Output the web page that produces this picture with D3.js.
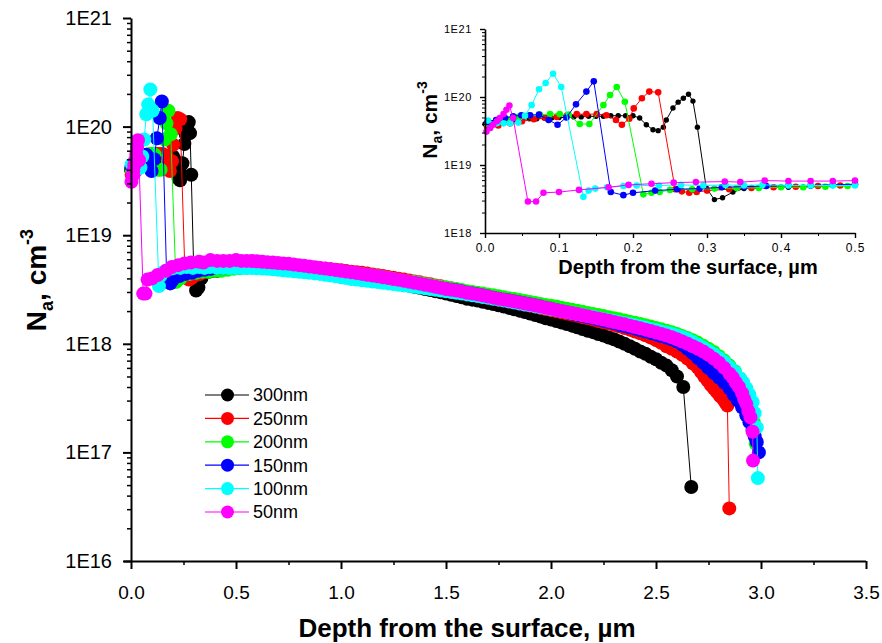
<!DOCTYPE html>
<html><head><meta charset="utf-8">
<script src="https://cdn.jsdelivr.net/npm/d3@7"></script>
<style>
body{margin:0;background:#fff;}
svg{display:block;}
text{font-family:"Liberation Sans",Arial,sans-serif;fill:#000;}
</style></head><body>
<svg id="c" width="882" height="643"></svg>
<script>
// ---------------- DATA ----------------
const seriesNames  = ["300nm","250nm","200nm","150nm","100nm","50nm"];
const seriesColors = ["#000000","#ff0000","#00ff00","#0000ff","#00ffff","#ff00ff"];

// near-surface part [depth µm, Na cm^-3]
const surface300 = [[0.0,4.0e19],[0.01,4.2e19],[0.02,4.4e19],[0.03,4.5e19],[0.04,4.6e19],[0.05,4.7e19],[0.06,4.8e19],[0.07,4.8e19],[0.08,4.9e19],[0.09,4.9e19],[0.10,5.0e19],[0.11,5.0e19],[0.12,5.1e19],[0.13,5.1e19],[0.14,5.2e19],[0.15,5.2e19],[0.16,5.2e19],[0.17,5.3e19],[0.18,5.3e19],[0.19,5.3e19],[0.20,5.3e19],[0.209,4.9e19],[0.218,3.9e19],[0.227,3.3e19],[0.234,3.2e19],[0.241,3.6e19],[0.245,4.6e19],[0.254,6.9e19],[0.261,8.4e19],[0.268,9.6e19],[0.275,1.1e20],[0.281,8.7e19],[0.287,3.6e19],[0.299,4.6e18],[0.31,3.1e18],[0.321,3.3e18],[0.335,4.0e18],[0.35,4.5e18],[0.37,4.6e18],[0.39,4.7e18],[0.41,4.7e18],[0.44,4.9e18],[0.47,5.0e18],[0.5,5.1e18],[0.525,5.1e18]];
const surface250 = [[0.003,3.6e19],[0.018,3.8e19],[0.034,4.1e19],[0.05,4.4e19],[0.066,4.7e19],[0.082,4.9e19],[0.097,5.1e19],[0.111,5.4e19],[0.124,5.6e19],[0.137,5.6e19],[0.151,5.6e19],[0.164,5.4e19],[0.177,4.6e19],[0.185,3.9e19],[0.195,4.8e19],[0.201,6.8e19],[0.212,9.6e19],[0.222,1.2e20],[0.234,1.17e20],[0.257,4.4e18],[0.266,4.1e18],[0.276,3.9e18],[0.286,4.0e18],[0.30,4.2e18],[0.33,4.4e18],[0.36,4.6e18],[0.39,4.7e18],[0.42,4.8e18],[0.45,4.9e18],[0.48,5.0e18],[0.515,5.05e18]];
const surface200 = [[0.003,4.0e19],[0.016,4.3e19],[0.03,4.7e19],[0.045,5.1e19],[0.06,5.4e19],[0.074,5.5e19],[0.088,5.6e19],[0.101,5.6e19],[0.113,5.5e19],[0.128,4.0e19],[0.141,4.0e19],[0.160,7.6e19],[0.169,1.07e20],[0.178,1.4e20],[0.189,8.5e19],[0.214,3.7e18],[0.225,3.9e18],[0.236,4.0e18],[0.25,4.3e18],[0.28,4.4e18],[0.31,4.5e18],[0.34,4.6e18],[0.37,4.6e18],[0.40,4.7e18],[0.43,4.7e18],[0.46,4.8e18],[0.49,4.9e18],[0.52,4.95e18]];
const surface150 = [[0.003,4.3e19],[0.015,4.6e19],[0.027,4.9e19],[0.038,5.2e19],[0.049,5.4e19],[0.061,5.4e19],[0.073,5.5e19],[0.086,4.6e19],[0.098,3.9e19],[0.110,5.0e19],[0.123,7.8e19],[0.137,1.2e20],[0.147,1.7e20],[0.170,4.0e18],[0.187,3.6e18],[0.200,3.9e18],[0.23,4.2e18],[0.26,4.4e18],[0.29,4.5e18],[0.32,4.7e18],[0.35,4.8e18],[0.38,4.9e18],[0.41,5.0e18],[0.44,5.0e18],[0.47,5.1e18],[0.50,5.2e18],[0.525,5.2e18]];
const surface100 = [[0.004,4.5e19],[0.016,4.1e19],[0.025,4.1e19],[0.034,4.1e19],[0.045,4.2e19],[0.054,5.3e19],[0.063,7.6e19],[0.073,1.3e20],[0.082,1.6e20],[0.092,2.2e20],[0.103,1.4e20],[0.133,3.4e18],[0.14,4.2e18],[0.149,4.5e18],[0.165,4.7e18],[0.187,4.9e18],[0.205,5.0e18],[0.235,5.0e18],[0.265,5.1e18],[0.295,5.0e18],[0.325,5.1e18],[0.35,5.0e18],[0.375,5.1e18],[0.41,5.0e18],[0.44,5.0e18],[0.47,5.0e18],[0.50,5.0e18],[0.525,5.0e18]];
const surface50  = [[0.002,3.1e19],[0.007,3.5e19],[0.011,3.9e19],[0.016,4.4e19],[0.020,4.9e19],[0.025,5.6e19],[0.029,6.5e19],[0.033,7.5e19],[0.038,4.9e19],[0.058,2.9e18],[0.069,2.9e18],[0.079,3.9e18],[0.10,4.0e18],[0.127,4.3e18],[0.167,4.7e18],[0.194,5.1e18],[0.225,5.3e18],[0.255,5.5e18],[0.285,5.6e18],[0.324,5.7e18],[0.345,5.6e18],[0.378,5.9e18],[0.41,5.8e18],[0.44,5.8e18],[0.47,5.8e18],[0.50,5.9e18],[0.525,5.8e18]];

// bulk part: shared depth grid (µm), values per series in units of 1e18 cm^-3
const bulkUnit = 1e18;
const bulkDepth = [0.55,0.575,0.60,0.625,0.65,0.675,0.70,0.725,0.75,0.775,0.80,0.825,0.85,0.875,0.90,0.925,0.95,0.975,1.00,1.025,1.05,1.075,1.10,1.125,1.15,1.175,1.20,1.225,1.25,1.275,1.30,1.325,1.35,1.375,1.40,1.425,1.45,1.475,1.50,1.525,1.55,1.575,1.60,1.625,1.65,1.675,1.70,1.725,1.75,1.775,1.80,1.825,1.85,1.875,1.90,1.925,1.95,1.975,2.00,2.025,2.05,2.075,2.10,2.125,2.15,2.175,2.20,2.225,2.25,2.275,2.30,2.325,2.35,2.375,2.40,2.425,2.45,2.475,2.50,2.525,2.55,2.575,2.60];
const bulk300 = [5.1,5.1,5.1,5.1,5.1,5.08,5.05,5.03,5.0,4.95,4.9,4.85,4.8,4.75,4.7,4.63,4.55,4.48,4.4,4.33,4.25,4.18,4.1,4.03,3.95,3.88,3.8,3.73,3.65,3.58,3.5,3.43,3.35,3.28,3.2,3.13,3.05,2.98,2.9,2.83,2.75,2.68,2.6,2.55,2.5,2.44,2.38,2.32,2.26,2.2,2.14,2.08,2.02,1.96,1.9,1.84,1.78,1.72,1.67,1.62,1.57,1.52,1.47,1.42,1.37,1.32,1.28,1.23,1.19,1.14,1.1,1.05,1.0,0.95,0.9,0.85,0.81,0.76,0.72,0.67,0.63];
const bulk250 = [5.1,5.13,5.15,5.18,5.2,5.2,5.2,5.18,5.15,5.13,5.1,5.05,5.0,4.98,4.95,4.9,4.85,4.8,4.75,4.68,4.6,4.55,4.5,4.43,4.35,4.28,4.2,4.13,4.05,3.98,3.9,3.83,3.75,3.68,3.6,3.53,3.45,3.38,3.3,3.23,3.15,3.08,3.0,2.93,2.85,2.78,2.72,2.66,2.6,2.54,2.48,2.42,2.36,2.3,2.25,2.2,2.14,2.09,2.04,2.0,1.95,1.9,1.86,1.81,1.76,1.72,1.67,1.62,1.58,1.54,1.49,1.45,1.4,1.35,1.3,1.25,1.2,1.14,1.08,1.02,0.95,0.9,0.85];
const bulk200 = [5.0,5.05,5.1,5.13,5.15,5.15,5.15,5.13,5.1,5.08,5.05,5.0,4.95,4.9,4.85,4.8,4.75,4.7,4.65,4.58,4.5,4.45,4.4,4.33,4.25,4.18,4.1,4.03,3.95,3.88,3.8,3.75,3.7,3.63,3.55,3.48,3.4,3.35,3.3,3.25,3.2,3.13,3.05,3.0,2.95,2.9,2.85,2.8,2.74,2.68,2.63,2.58,2.53,2.48,2.43,2.38,2.33,2.28,2.24,2.2,2.15,2.1,2.06,2.02,1.97,1.92,1.88,1.84,1.8,1.76,1.72,1.68,1.64,1.6,1.56,1.52,1.48,1.44,1.4,1.36,1.32,1.28,1.23];
const bulk150 = [5.2,5.2,5.2,5.18,5.15,5.13,5.1,5.08,5.05,5.0,4.95,4.9,4.85,4.8,4.75,4.68,4.6,4.55,4.5,4.43,4.35,4.3,4.25,4.18,4.1,4.05,4.0,3.93,3.85,3.78,3.7,3.65,3.6,3.53,3.45,3.38,3.3,3.25,3.2,3.15,3.1,3.03,2.95,2.9,2.85,2.78,2.72,2.66,2.6,2.55,2.5,2.45,2.4,2.35,2.3,2.25,2.2,2.15,2.1,2.05,2.0,1.95,1.9,1.85,1.8,1.76,1.72,1.67,1.63,1.59,1.55,1.5,1.46,1.42,1.38,1.34,1.3,1.26,1.22,1.18,1.14,1.1,1.05];
const bulk100 = [5.0,4.98,4.95,4.93,4.9,4.85,4.8,4.75,4.7,4.65,4.6,4.55,4.5,4.45,4.4,4.33,4.25,4.18,4.1,4.03,3.95,3.9,3.85,3.8,3.75,3.7,3.65,3.6,3.55,3.5,3.45,3.4,3.35,3.3,3.25,3.2,3.15,3.1,3.05,3.0,2.95,2.9,2.85,2.8,2.75,2.7,2.65,2.6,2.55,2.5,2.45,2.4,2.35,2.3,2.26,2.21,2.17,2.12,2.08,2.04,2.0,1.96,1.92,1.88,1.84,1.8,1.77,1.73,1.69,1.65,1.62,1.58,1.55,1.51,1.48,1.44,1.41,1.37,1.34,1.3,1.27,1.23,1.19];
const bulk50  = [5.8,5.78,5.75,5.7,5.65,5.6,5.55,5.5,5.45,5.38,5.3,5.23,5.15,5.08,5.0,4.93,4.85,4.78,4.7,4.63,4.55,4.48,4.4,4.33,4.25,4.18,4.1,4.03,3.95,3.88,3.8,3.73,3.65,3.58,3.5,3.43,3.35,3.28,3.2,3.15,3.1,3.03,2.95,2.9,2.85,2.78,2.72,2.66,2.6,2.55,2.5,2.45,2.4,2.35,2.3,2.25,2.2,2.15,2.1,2.05,2.0,1.96,1.92,1.88,1.83,1.79,1.75,1.71,1.67,1.63,1.59,1.55,1.51,1.47,1.43,1.39,1.35,1.31,1.27,1.23,1.19,1.15,1.1];

// deep tail part [depth µm, Na cm^-3]
const tail300 = [[2.575,5.7e17],[2.60,5.0e17],[2.63,4.0e17],[2.668,4.8e16]];
const tail250 = [[2.625,7.9e17],[2.65,7.3e17],[2.675,6.6e17],[2.70,6.0e17],[2.715,5.5e17],[2.73,5.0e17],[2.745,4.6e17],[2.76,4.2e17],[2.775,3.9e17],[2.79,3.6e17],[2.805,3.3e17],[2.82,3.1e17],[2.83,2.9e17],[2.84,2.7e17],[2.849,3.05e16]];
const tail200 = [[2.625,1.18e18],[2.65,1.13e18],[2.675,1.08e18],[2.70,1.02e18],[2.725,9.6e17],[2.75,9.0e17],[2.775,8.4e17],[2.80,7.7e17],[2.825,7.0e17],[2.85,6.3e17],[2.875,5.6e17],[2.90,4.8e17],[2.915,4.2e17],[2.93,3.7e17],[2.94,3.2e17],[2.95,2.8e17],[2.96,2.3e17],[2.965,1.9e17],[2.975,1.2e17]];
const tail150 = [[2.625,9.8e17],[2.65,9.0e17],[2.675,8.2e17],[2.70,7.4e17],[2.725,6.7e17],[2.75,6.0e17],[2.775,5.4e17],[2.80,4.9e17],[2.825,4.4e17],[2.85,3.9e17],[2.87,3.4e17],[2.89,3.0e17],[2.91,2.6e17],[2.93,2.2e17],[2.945,1.9e17],[2.96,1.6e17],[2.97,1.4e17],[2.98,1.25e17],[2.99,1.0e17]];
const tail100 = [[2.625,1.15e18],[2.65,1.1e18],[2.675,1.04e18],[2.70,9.8e17],[2.725,9.2e17],[2.75,8.6e17],[2.775,8.0e17],[2.80,7.4e17],[2.825,6.8e17],[2.85,6.1e17],[2.875,5.5e17],[2.90,4.8e17],[2.915,4.4e17],[2.93,3.9e17],[2.945,3.4e17],[2.96,2.9e17],[2.97,2.3e17],[2.98,1.7e17],[2.985,5.8e16]];
const tail50  = [[2.625,1.05e18],[2.65,1.0e18],[2.675,9.5e17],[2.70,9.0e17],[2.725,8.5e17],[2.75,7.9e17],[2.775,7.3e17],[2.80,6.7e17],[2.825,6.0e17],[2.85,5.3e17],[2.865,4.9e17],[2.88,4.4e17],[2.895,4.0e17],[2.91,3.5e17],[2.92,3.1e17],[2.93,2.8e17],[2.94,2.4e17],[2.95,2.1e17],[2.96,1.55e17],[2.962,8.4e16]];

// tick labels
const xTickValues = [0,0.5,1.0,1.5,2.0,2.5,3.0,3.5];
const xTickLabels = ["0.0","0.5","1.0","1.5","2.0","2.5","3.0","3.5"];
const yTickValues = [1e16,1e17,1e18,1e19,1e20,1e21];
const yTickLabels = ["1E16","1E17","1E18","1E19","1E20","1E21"];
const insetXTickValues = [0,0.1,0.2,0.3,0.4,0.5];
const insetXTickLabels = ["0.0","0.1","0.2","0.3","0.4","0.5"];
const insetYTickValues = [1e18,1e19,1e20,1e21];
const insetYTickLabels = ["1E18","1E19","1E20","1E21"];

// ---------------- BUILD ----------------
const surfaces = [surface300,surface250,surface200,surface150,surface100,surface50];
const bulks = [bulk300,bulk250,bulk200,bulk150,bulk100,bulk50];
const tails = [tail300,tail250,tail200,tail150,tail100,tail50];
const series = seriesNames.map((name,i)=>({
  name, color: seriesColors[i],
  points: surfaces[i].concat(bulks[i].map((v,j)=>[bulkDepth[j],v*bulkUnit]), tails[i])
}));

const svg = d3.select("#c");
svg.append("rect").attr("width",882).attr("height",643).attr("fill","#fff");

function minorLog(lo,hi){const o=[];for(let e=lo;e<hi;e++)for(let m=2;m<=9;m++)o.push(m*Math.pow(10,e));return o;}

// ---- main chart ----
const x = d3.scaleLinear().domain([0,3.5]).range([131,866]);
const y = d3.scaleLog().domain([1e16,1e21]).range([561,18]);

const gData = svg.append("g");
const line = d3.line().x(p=>x(p[0])).y(p=>y(p[1]));
series.forEach(s=>{
  const g = gData.append("g");
  g.append("path").attr("d",line(s.points)).attr("fill","none").attr("stroke",s.color).attr("stroke-width",1);
  g.selectAll("circle").data(s.points).enter().append("circle")
    .attr("cx",p=>x(p[0])).attr("cy",p=>y(p[1])).attr("r",7).attr("fill",s.color);
});

// axes
svg.append("g").attr("transform","translate(131,0)")
  .call(d3.axisLeft(y).tickValues(minorLog(16,21)).tickSize(4).tickFormat(""))
  .call(g=>{g.select(".domain").remove();g.selectAll("line").attr("stroke-width",1.5);});
const gy = svg.append("g").attr("transform","translate(131,0)")
  .call(d3.axisLeft(y).tickValues(yTickValues).tickFormat((d,i)=>yTickLabels[i]).tickSize(8).tickPadding(11).tickSizeOuter(0));
gy.select(".domain").attr("stroke-width",2);
gy.selectAll("line").attr("stroke-width",2);
gy.selectAll("text").attr("font-size",20).attr("font-family","Liberation Sans, Arial, sans-serif");

svg.append("g").attr("transform","translate(0,561)")
  .call(d3.axisBottom(x).tickValues([0.25,0.75,1.25,1.75,2.25,2.75,3.25]).tickSize(4).tickFormat(""))
  .call(g=>{g.select(".domain").remove();g.selectAll("line").attr("stroke-width",1.5);});
const gx = svg.append("g").attr("transform","translate(0,561)")
  .call(d3.axisBottom(x).tickValues(xTickValues).tickFormat((d,i)=>xTickLabels[i]).tickSize(8).tickPadding(17).tickSizeOuter(0));
gx.select(".domain").attr("stroke-width",2).attr("d","M124,0.5H866");
gx.selectAll("line").attr("stroke-width",2);
gx.selectAll("text").attr("font-size",19).attr("font-family","Liberation Sans Narrow, Arial Narrow, Liberation Sans, sans-serif");

// axis titles
svg.append("text").attr("x",467).attr("y",637).attr("text-anchor","middle")
  .attr("font-size",26).attr("font-weight","bold").text("Depth from the surface, µm");
const yt = svg.append("text").attr("transform","translate(46,280) rotate(-90)").attr("text-anchor","middle")
  .attr("font-size",28).attr("font-weight","bold");
yt.append("tspan").text("N");
yt.append("tspan").attr("font-size",18).attr("dy",7).text("a");
yt.append("tspan").attr("dy",-7).text(", cm");
yt.append("tspan").attr("font-size",18).attr("dy",-13).text("-3");

// legend
const lg = svg.append("g");
series.forEach((s,i)=>{
  const yy = 395 + i*23.4;
  lg.append("line").attr("x1",205).attr("x2",249).attr("y1",yy).attr("y2",yy).attr("stroke",s.color).attr("stroke-width",1.2);
  lg.append("circle").attr("cx",227.5).attr("cy",yy).attr("r",6.5).attr("fill",s.color);
  lg.append("text").attr("x",253).attr("y",yy).attr("dy","0.36em").attr("font-size",18).text(s.name);
});

// ---- inset ----
const xi = d3.scaleLinear().domain([0,0.5]).range([485,855]);
const yi = d3.scaleLog().domain([1e18,1e21]).range([233,29]);
const lineI = d3.line().x(p=>xi(p[0])).y(p=>yi(p[1]));
const gi = svg.append("g");
series.forEach(s=>{
  const pts = s.points.filter(p=>p[0]<=0.5);
  const g = gi.append("g");
  g.append("path").attr("d",lineI(pts)).attr("fill","none").attr("stroke",s.color).attr("stroke-width",1);
  g.selectAll("circle").data(pts).enter().append("circle")
    .attr("cx",p=>xi(p[0])).attr("cy",p=>yi(p[1])).attr("r",s.name==="300nm"?2.7:3.3).attr("fill",s.color);
});
svg.append("g").attr("transform","translate(485,0)")
  .call(d3.axisLeft(yi).tickValues(minorLog(18,21)).tickSize(3).tickFormat(""))
  .call(g=>g.select(".domain").remove());
const giy = svg.append("g").attr("transform","translate(485,0)")
  .call(d3.axisLeft(yi).tickValues(insetYTickValues).tickFormat((d,i)=>insetYTickLabels[i]).tickSize(5).tickPadding(8).tickSizeOuter(0));
giy.select(".domain").attr("stroke-width",1.6);
giy.selectAll("line").attr("stroke-width",1.4);
giy.selectAll("text").attr("font-size",11).attr("letter-spacing",0.6);
svg.append("g").attr("transform","translate(0,233)")
  .call(d3.axisBottom(xi).tickValues([0.05,0.15,0.25,0.35,0.45]).tickSize(3).tickFormat(""))
  .call(g=>g.select(".domain").remove());
const gix = svg.append("g").attr("transform","translate(0,233)")
  .call(d3.axisBottom(xi).tickValues(insetXTickValues).tickFormat((d,i)=>insetXTickLabels[i]).tickSize(5).tickPadding(5).tickSizeOuter(0));
gix.select(".domain").attr("stroke-width",1.6);
gix.selectAll("line").attr("stroke-width",1.4);
gix.selectAll("text").attr("font-size",12).attr("letter-spacing",1);

svg.append("text").attr("x",688).attr("y",274).attr("text-anchor","middle")
  .attr("font-size",20).attr("font-weight","bold").text("Depth from the surface, µm");
const yti = svg.append("text").attr("transform","translate(437,120) rotate(-90)").attr("text-anchor","middle")
  .attr("font-size",21).attr("font-weight","bold");
yti.append("tspan").text("N");
yti.append("tspan").attr("font-size",14).attr("dy",5).text("a");
yti.append("tspan").attr("dy",-5).text(", cm");
yti.append("tspan").attr("font-size",14).attr("dy",-10).text("-3");
</script>
</body></html>
